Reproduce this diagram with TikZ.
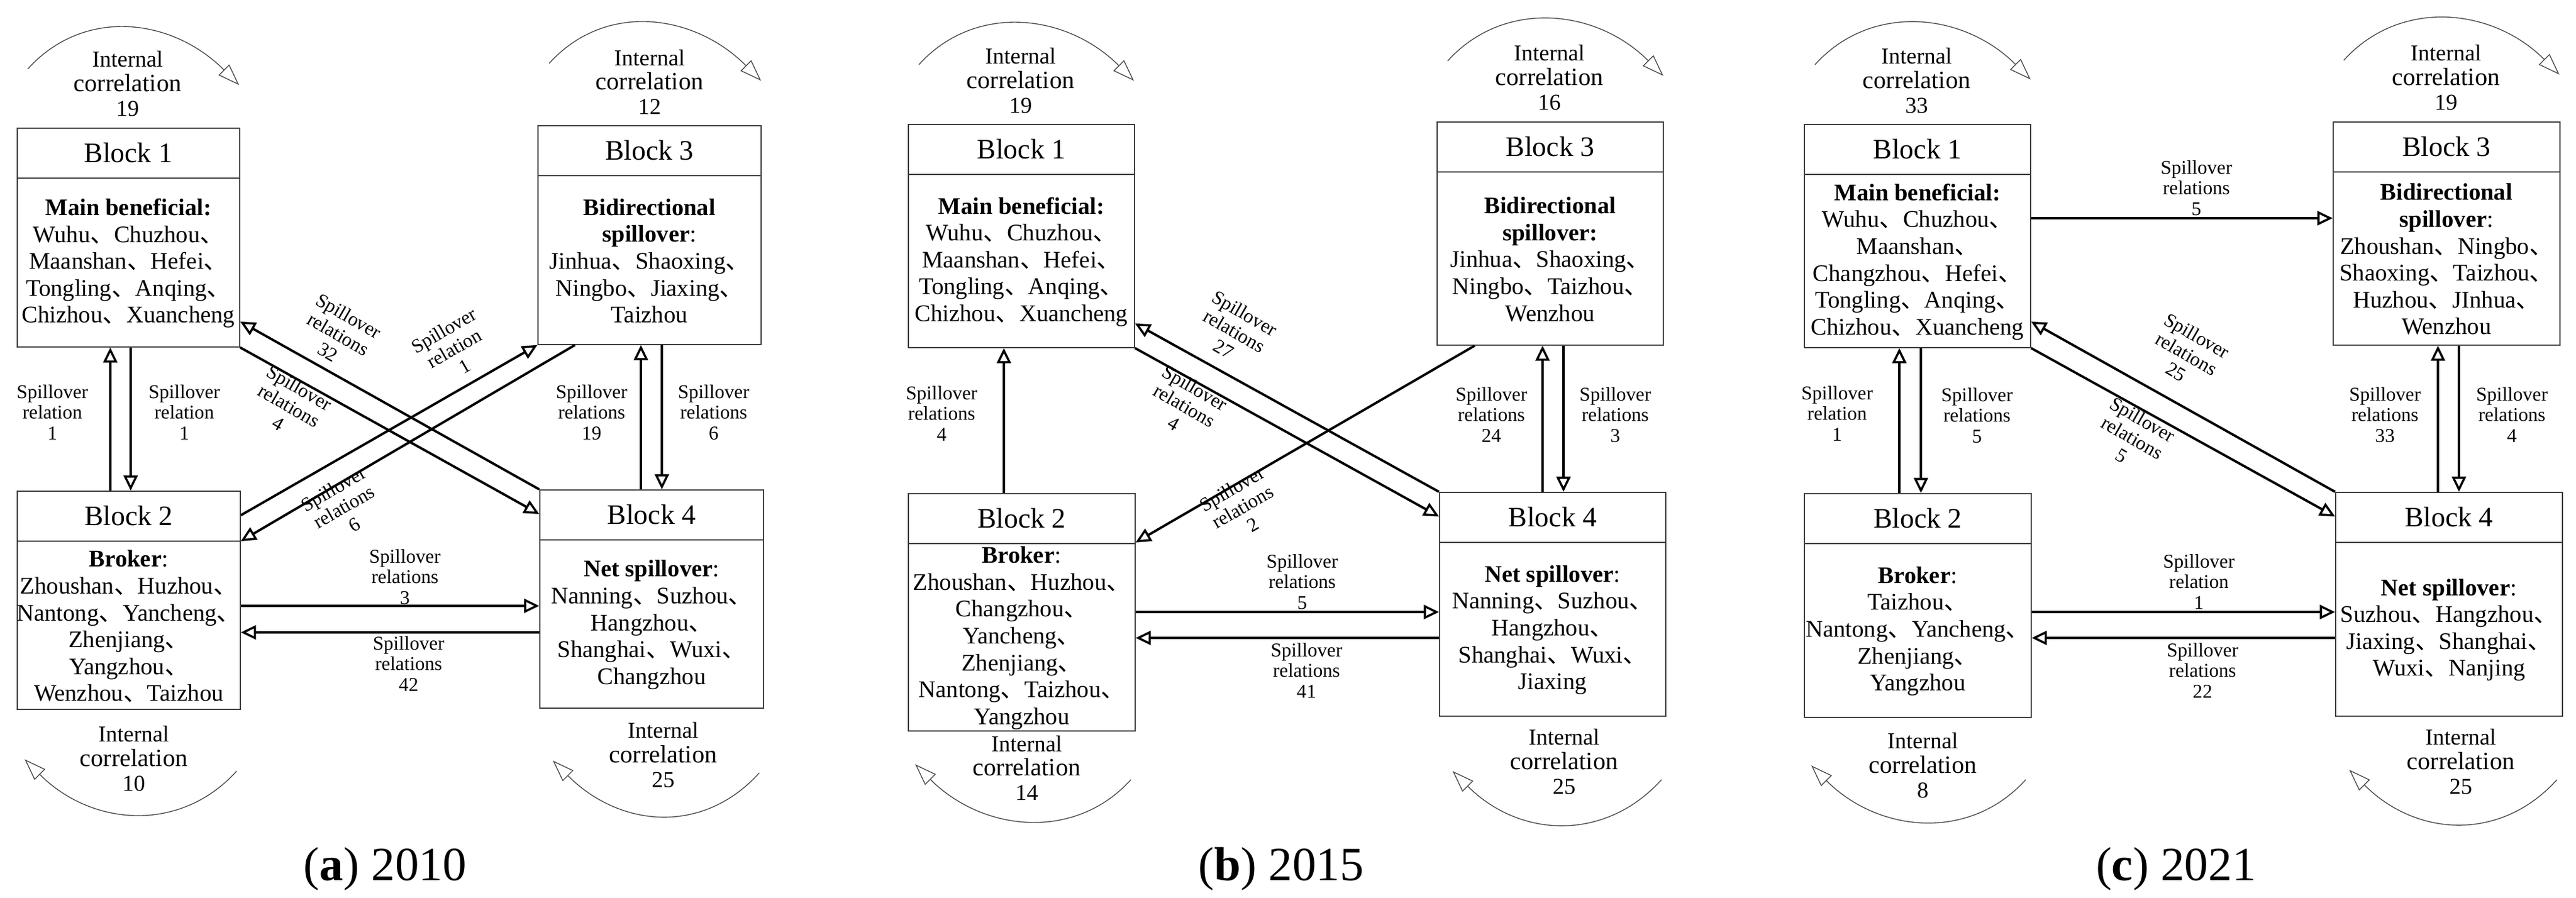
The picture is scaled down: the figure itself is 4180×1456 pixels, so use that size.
\documentclass[tikz,border=0pt]{standalone}
\usepackage{fontspec}
\setmainfont{Liberation Serif}
\newfontfamily\cjk{Noto Sans CJK SC}
\usetikzlibrary{arrows.meta,calc}
\newcommand\dn{\smash{\cjk 、}}
\newcommand\cor{{\fontsize{11.5}{11.3}\selectfont correlation}}
\newcommand\myblk[7]{%
  \node[box,minimum width=#4*0.1mm,minimum height=#5*0.1mm,anchor=north west] (#1) at (#2,#3) {};
  \draw[boxline] ($(#1.north west)+(0,82)$) -- ($(#1.north east)+(0,82)$);
  \node[ttl] (#1t) at ($(#1.north)+(0,41)$) {#6};
  \node[body] (#1b) at ($(#1.south)+(0,{-(#5-82)/2})$) {#7};
}
\begin{document}
\begin{tikzpicture}[x=0.1mm,y=-0.1mm,
  box/.style={draw=black!75,line width=0.5pt,inner sep=0pt},
  boxline/.style={draw=black!75,line width=0.5pt},
  ttl/.style={font=\fontsize{13}{14}\selectfont},
  body/.style={align=center,font=\fontsize{11}{12.4}\selectfont,inner sep=0pt},
  lab/.style={align=center,font=\fontsize{9}{9.6}\selectfont,inner sep=0pt},
  ic/.style={align=center,font=\fontsize{10.5}{11.3}\selectfont,inner sep=0pt},
  captxt/.style={font=\fontsize{22}{24}\selectfont},
  con/.style={line width=1.1pt,-{Triangle[open,length=7pt,width=6.5pt,line width=1pt]}},
  icarc/.style={line width=0.4pt,draw=black!70,-{Triangle[open,length=10pt,width=7pt,line width=0.4pt]}}]
\useasboundingbox (0,0) rectangle (4180,1456);
% ================= panel a =================
\myblk{a1}{27}{207}{361}{355}{Block 1}{\textbf{Main beneficial:}\\Wuhu\dn Chuzhou\dn\\Maanshan\dn Hefei\dn\\Tongling\dn Anqing\dn\\Chizhou\dn Xuancheng}
\myblk{a3}{872}{203}{362}{355}{Block 3}{\textbf{Bidirectional}\\\textbf{spillover}:\\Jinhua\dn Shaoxing\dn\\Ningbo\dn Jiaxing\dn\\Taizhou}
\myblk{a2}{27}{796}{362}{354}{Block 2}{\textbf{Broker}:\\Zhoushan\dn Huzhou\dn\\Nantong\dn Yancheng\dn\\Zhenjiang\dn\\Yangzhou\dn\\Wenzhou\dn Taizhou}
\myblk{a4}{875}{794}{363}{354}{Block 4}{\textbf{Net spillover}:\\Nanning\dn Suzhou\dn\\Hangzhou\dn\\Shanghai\dn Wuxi\dn\\Changzhou}
\draw[con] ($(a2.north west)+(152,0)$) coordinate (t) -- (t |- a1.south);
\draw[con] ($(a1.south west)+(185,0)$) coordinate (t) -- (t |- a2.north);
\draw[con] ($(a4.north west)+(165,0)$) coordinate (t) -- (t |- a3.south);
\draw[con] ($(a3.south west)+(202,0)$) coordinate (t) -- (t |- a4.north);
\draw[con] (a4.north west) -- ($(a1.south east)+(0,-42)$);
\draw[con] (a1.south east) -- ($(a4.north west)+(0,40)$);
\draw[con] ($(a2.north east)+(0,40)$) -- (a3.south west);
\draw[con] ($(a3.south west)+(61,0)$) -- ($(a2.north east)+(0,82)$);
\draw[con] ($(a2.north east)+(0,187)$) coordinate (t) -- (t -| a4.west);
\draw[con] ($(a4.north west)+(0,232)$) coordinate (t) -- (t -| a2.east);
\node[lab] (la1) at (85,669) {Spillover\\relation\\1};
\node[lab] (la2) at (299,669) {Spillover\\relation\\1};
\node[lab] (la3) at (960,669) {Spillover\\relations\\19};
\node[lab] (la4) at (1158,669) {Spillover\\relations\\6};
\node[lab] (la5) at (657,936) {Spillover\\relations\\3};
\node[lab] (la6) at (663,1077) {Spillover\\relations\\42};
\node[lab,rotate=-30] (la7) at (549,542) {Spillover\\relations\\32};
\node[lab,rotate=-30] (la8) at (469,658) {Spillover\\relations\\4};
\node[lab,rotate=30] (la9) at (737,565) {Spillover\\relation\\1};
\node[lab,rotate=30] (la10) at (558,822) {Spillover\\relations\\6};
\node[ic] (ia1) at (207,136) {Internal\\\cor\\19};
\node[ic] (ia3) at (1054,133) {Internal\\\cor\\12};
\node[ic] (ia2) at (217,1231) {Internal\\\cor\\10};
\node[ic] (ia4) at (1076,1225) {Internal\\\cor\\25};
\coordinate (s) at (45,112); \coordinate (e) at (388,138);
\draw[icarc] (s) .. controls +(90,-100) and +(-110,-110) .. (e);
\coordinate (s) at (891,103); \coordinate (e) at (1235,131);
\draw[icarc] (s) .. controls +(90,-100) and +(-110,-110) .. (e);
\coordinate (s) at (384,1251); \coordinate (e) at (40,1232);
\draw[icarc] (s) .. controls +(-90,100) and +(110,110) .. (e);
\coordinate (s) at (1232,1254); \coordinate (e) at (897,1234);
\draw[icarc] (s) .. controls +(-90,100) and +(110,110) .. (e);
\node[captxt] (ca) at (625,1410) {(\textbf{a}) 2010};
% ================= panel b =================
\myblk{b1}{1473}{201}{367}{362}{Block 1}{\textbf{Main beneficial:}\\Wuhu\dn Chuzhou\dn\\Maanshan\dn Hefei\dn\\Tongling\dn Anqing\dn\\Chizhou\dn Xuancheng}
\myblk{b3}{2331}{197}{367}{362}{Block 3}{\textbf{Bidirectional}\\\textbf{spillover:}\\Jinhua\dn Shaoxing\dn\\Ningbo\dn Taizhou\dn\\Wenzhou}
\myblk{b2}{1473}{800}{368}{385}{Block 2}{\textbf{Broker}:\\Zhoushan\dn Huzhou\dn\\Changzhou\dn\\Yancheng\dn\\Zhenjiang\dn\\Nantong\dn Taizhou\dn\\Yangzhou}
\myblk{b4}{2335}{798}{367}{363}{Block 4}{\textbf{Net spillover}:\\Nanning\dn Suzhou\dn\\Hangzhou\dn\\Shanghai\dn Wuxi\dn\\Jiaxing}
\draw[con] ($(b2.north west)+(156,0)$) coordinate (t) -- (t |- b1.south);
\draw[con] ($(b4.north west)+(168,0)$) coordinate (t) -- (t |- b3.south);
\draw[con] ($(b3.south west)+(206,0)$) coordinate (t) -- (t |- b4.north);
\draw[con] (b4.north west) -- ($(b1.south east)+(0,-40)$);
\draw[con] (b1.south east) -- ($(b4.north west)+(0,40)$);
\draw[con] ($(b3.south west)+(62,0)$) -- ($(b2.north east)+(0,80)$);
\draw[con] ($(b2.north east)+(0,193)$) coordinate (t) -- (t -| b4.west);
\draw[con] ($(b2.north east)+(0,235)$) coordinate (t) (t -| b4.west) -- (t);
\node[lab] (lb1) at (1528,671) {Spillover\\relations\\4};
\node[lab] (lb3) at (2420,673) {Spillover\\relations\\24};
\node[lab] (lb4) at (2621,673) {Spillover\\relations\\3};
\node[lab] (lb5) at (2113,944) {Spillover\\relations\\5};
\node[lab] (lb6) at (2120,1088) {Spillover\\relations\\41};
\node[lab,rotate=-30] (lb7) at (2003,537) {Spillover\\relations\\27};
\node[lab,rotate=-30] (lb8) at (1922,658) {Spillover\\relations\\4};
\node[lab,rotate=30] (lb10) at (2016,822) {Spillover\\relations\\2};
\node[ic] (ib1) at (1656,131) {Internal\\\cor\\19};
\node[ic] (ib3) at (2514,126) {Internal\\\cor\\16};
\node[ic] (ib2) at (1666,1246) {Internal\\\cor\\14};
\node[ic] (ib4) at (2538,1236) {Internal\\\cor\\25};
\coordinate (s) at (1491,105); \coordinate (e) at (1840,131);
\draw[icarc] (s) .. controls +(90,-100) and +(-110,-110) .. (e);
\coordinate (s) at (2349,99); \coordinate (e) at (2699,123);
\draw[icarc] (s) .. controls +(90,-100) and +(-110,-110) .. (e);
\coordinate (s) at (1835,1265); \coordinate (e) at (1485,1240);
\draw[icarc] (s) .. controls +(-90,100) and +(110,110) .. (e);
\coordinate (s) at (2696,1265); \coordinate (e) at (2357,1251);
\draw[icarc] (s) .. controls +(-90,100) and +(110,110) .. (e);
\node[captxt] (cb) at (2079,1410) {(\textbf{b}) 2015};
% ================= panel c =================
\myblk{c1}{2927}{201}{367}{362}{Block 1}{\textbf{Main beneficial:}\\Wuhu\dn Chuzhou\dn\\Maanshan\dn\\Changzhou\dn Hefei\dn\\Tongling\dn Anqing\dn\\Chizhou\dn Xuancheng}
\myblk{c3}{3785}{197}{368}{362}{Block 3}{\textbf{Bidirectional}\\\textbf{spillover}:\\Zhoushan\dn Ningbo\dn\\Shaoxing\dn Taizhou\dn\\Huzhou\dn JInhua\dn\\Wenzhou}
\myblk{c2}{2927}{800}{368}{363}{Block 2}{\textbf{Broker}:\\Taizhou\dn\\Nantong\dn Yancheng\dn\\Zhenjiang\dn\\Yangzhou}
\myblk{c4}{3789}{798}{368}{363}{Block 4}{\textbf{Net spillover}:\\Suzhou\dn Hangzhou\dn\\Jiaxing\dn Shanghai\dn\\Wuxi\dn Nanjing}
\draw[con] ($(c1.north east)+(0,153)$) coordinate (t) -- (t -| c3.west);
\draw[con] ($(c2.north west)+(155,0)$) coordinate (t) -- (t |- c1.south);
\draw[con] ($(c1.south west)+(190,0)$) coordinate (t) -- (t |- c2.north);
\draw[con] ($(c4.north west)+(167,0)$) coordinate (t) -- (t |- c3.south);
\draw[con] ($(c3.south west)+(205,0)$) coordinate (t) -- (t |- c4.north);
\draw[con] (c4.north west) -- ($(c1.south east)+(0,-43)$);
\draw[con] (c1.south east) -- ($(c4.north west)+(0,40)$);
\draw[con] ($(c2.north east)+(0,193)$) coordinate (t) -- (t -| c4.west);
\draw[con] ($(c2.north east)+(0,235)$) coordinate (t) (t -| c4.west) -- (t);
\node[lab] (lc0) at (3564,305) {Spillover\\relations\\5};
\node[lab] (lc1) at (2981,671) {Spillover\\relation\\1};
\node[lab] (lc2) at (3208,674) {Spillover\\relations\\5};
\node[lab] (lc3) at (3870,673) {Spillover\\relations\\33};
\node[lab] (lc4) at (4076,673) {Spillover\\relations\\4};
\node[lab] (lc5) at (3568,944) {Spillover\\relation\\1};
\node[lab] (lc6) at (3574,1088) {Spillover\\relations\\22};
\node[lab,rotate=-30] (lc7) at (3548,574) {Spillover\\relations\\25};
\node[lab,rotate=-30] (lc8) at (3460,710) {Spillover\\relations\\5};
\node[ic] (ic1) at (3110,131) {Internal\\\cor\\33};
\node[ic] (ic3) at (3969,126) {Internal\\\cor\\19};
\node[ic] (ic2) at (3120,1242) {Internal\\\cor\\8};
\node[ic] (ic4) at (3993,1236) {Internal\\\cor\\25};
\coordinate (s) at (2945,105); \coordinate (e) at (3295,129);
\draw[icarc] (s) .. controls +(90,-100) and +(-110,-110) .. (e);
\coordinate (s) at (3803,98); \coordinate (e) at (4153,121);
\draw[icarc] (s) .. controls +(90,-100) and +(-110,-110) .. (e);
\coordinate (s) at (3287,1265); \coordinate (e) at (2939,1242);
\draw[icarc] (s) .. controls +(-90,100) and +(110,110) .. (e);
\coordinate (s) at (4149,1265); \coordinate (e) at (3812,1249);
\draw[icarc] (s) .. controls +(-90,100) and +(110,110) .. (e);
\node[captxt] (cc) at (3531,1410) {(\textbf{c}) 2021};
\end{tikzpicture}
\end{document}
